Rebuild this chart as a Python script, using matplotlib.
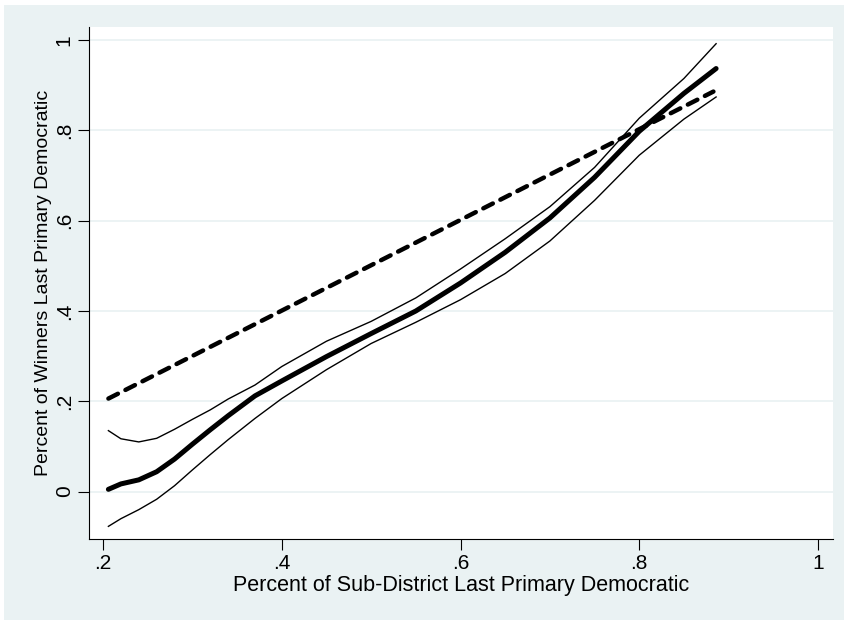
import matplotlib.pyplot as plt
from matplotlib.patches import Rectangle

# lowess fit with upper / lower bands, plus the 45-degree reference line
x = [0.206, 0.22, 0.24, 0.26, 0.28, 0.30, 0.32, 0.34, 0.37, 0.40,
     0.45, 0.50, 0.55, 0.60, 0.65, 0.70, 0.75, 0.80, 0.85, 0.886]
fit = [0.005, 0.017, 0.026, 0.044, 0.072, 0.105, 0.137, 0.168, 0.212, 0.245,
       0.299, 0.350, 0.400, 0.462, 0.530, 0.606, 0.696, 0.798, 0.882, 0.937]
upper = [0.135, 0.117, 0.110, 0.118, 0.138, 0.160, 0.181, 0.205, 0.236, 0.277,
         0.333, 0.377, 0.429, 0.493, 0.560, 0.631, 0.718, 0.827, 0.915, 0.992]
lower = [-0.077, -0.060, -0.040, -0.017, 0.013, 0.048, 0.082, 0.115, 0.162, 0.206,
         0.270, 0.328, 0.375, 0.425, 0.483, 0.555, 0.645, 0.745, 0.825, 0.874]
diag_x = [0.206, 0.883]
diag_y = [0.206, 0.886]

xticks = [0.2, 0.4, 0.6, 0.8, 1.0]
xticklabels = [".2", ".4", ".6", ".8", "1"]
yticks = [0.0, 0.2, 0.4, 0.6, 0.8, 1.0]
yticklabels = ["0", ".2", ".4", ".6", ".8", "1"]

bg = "#eaf2f3"
plt.rcParams['font.family'] = ['Liberation Sans', 'DejaVu Sans']

fig = plt.figure(figsize=(8.44, 6.2), dpi=100, facecolor="white")
fig.patches.append(Rectangle((4 / 844, 0), 1, 1 - 5 / 620, transform=fig.transFigure,
                             facecolor=bg, edgecolor="none", zorder=-10))
ax = fig.add_axes([89 / 844, 81 / 620, (833 - 89) / 844, (539 - 27) / 620])
ax.set_facecolor("white")

for yt in yticks:
    ax.axhline(yt, color=bg, lw=1.3, zorder=0)

ax.plot(x, upper, color="black", lw=1.0, solid_joinstyle="round")
ax.plot(x, lower, color="black", lw=1.0, solid_joinstyle="round")
ax.plot(x, fit, color="black", lw=3.6, solid_capstyle="round", solid_joinstyle="round")
ax.plot(diag_x, diag_y, color="black", lw=3.2, dashes=(2.4, 1.9), dash_capstyle="round")

ax.set_xlim(0.1843, 1.0168)
ax.set_ylim(-0.105, 1.029)
ax.set_xticks(xticks, xticklabels)
ax.set_yticks(yticks, yticklabels)
ax.tick_params(direction="out", length=8, width=0.8, labelsize=15, pad=3)
plt.setp(ax.get_yticklabels(), rotation=90, va="center")
for s in ["top", "right"]:
    ax.spines[s].set_visible(False)
for s in ["left", "bottom"]:
    ax.spines[s].set_linewidth(0.8)

ax.set_xlabel("Percent of Sub-District Last Primary Democratic", fontsize=15.5, labelpad=1)
ax.set_ylabel("Percent of Winners Last Primary Democratic", fontsize=14, labelpad=2)

fig.savefig("out.png", dpi=100, facecolor=fig.get_facecolor())
